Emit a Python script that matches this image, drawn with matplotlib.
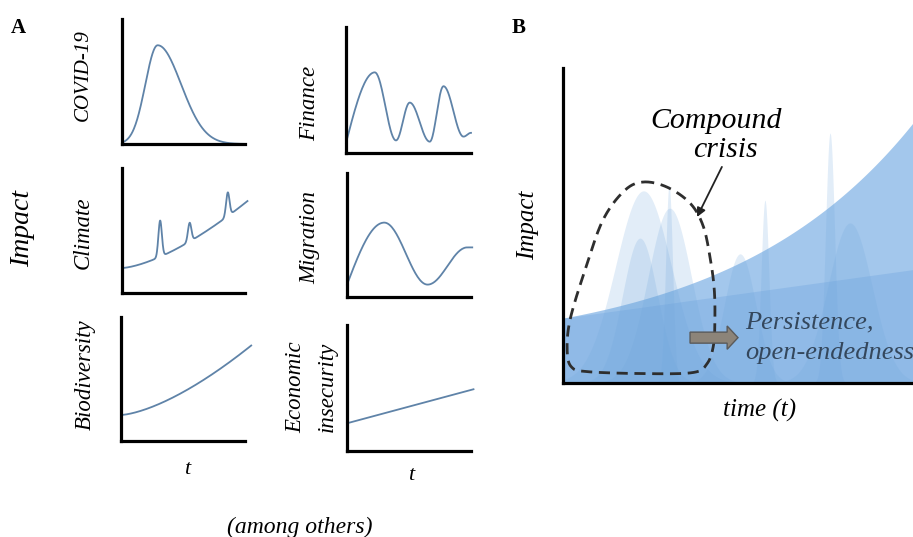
import numpy as np
import matplotlib
matplotlib.use("Agg")
import matplotlib.pyplot as plt
from matplotlib.patches import FancyArrow

W, H = 913, 537

# ---- Panel A: shape features of each small sketch (fractions of each small axis)
covid_center, covid_height, covid_left_w, covid_right_w = 0.29, 0.79, 0.10, 0.19

# turning points (peaks / troughs) of the wavy sketches
finance_x = [0.0, 0.23, 0.40, 0.51, 0.67, 0.78, 0.94, 1.0]
finance_y = [0.08, 0.64, 0.10, 0.40, 0.09, 0.53, 0.13, 0.16]
migration_x = [0.0, 0.30, 0.65, 0.97, 1.01]
migration_y = [0.10, 0.60, 0.10, 0.40, 0.40]

climate_start, climate_rise, climate_power = 0.20, 0.52, 1.5
climate_spike_centers = [0.31, 0.55, 0.86]
climate_spike_heights = [0.29, 0.15, 0.19]
climate_spike_width = 0.014

biodiv_start, biodiv_end, biodiv_power = 0.21, 0.77, 1.5
econ_start, econ_end = 0.22, 0.49

# ---- Panel B: persistent impact and overlapping crisis peaks (0..10 units)
env_start, env_scale, env_growth = 2.06, 1.09, 0.19
band_start, band_end = 2.06, 3.6
peak_centers = [2.3, 3.05, 3.03, 2.2, 5.06, 5.77, 7.63, 8.2]
peak_heights = [6.1, 5.55, 6.29, 4.6, 4.1, 5.81, 7.94, 5.08]
peak_widths = [0.8, 0.62, 0.10, 0.5, 0.45, 0.11, 0.13, 0.63]

crisis_outline = [(2.29, 6.38), (2.97, 6.22), (3.63, 5.71), (4.0, 5.0), (4.2, 4.0),
                  (4.32, 3.0), (4.34, 2.0), (4.3, 1.2), (4.12, 0.62), (3.7, 0.33),
                  (2.2, 0.30), (0.7, 0.36), (0.25, 0.5), (0.12, 1.0), (0.2, 2.0),
                  (0.63, 3.59), (1.14, 5.17), (1.75, 6.1)]


def bump(x, c, h, w):
    return h * np.exp(-0.5 * ((x - c) / w) ** 2)


def through_turns(xs, ys, n=40):
    # smooth stroke through turning points; the first stroke leaves the axis steeply
    px, py = [], []
    for i in range(len(xs) - 1):
        t = np.linspace(0, 1, n)
        if i == 0:
            e = np.sin(np.pi / 2 * t)
        else:
            e = 0.5 - 0.5 * np.cos(np.pi * t)
        px.append(xs[i] + (xs[i + 1] - xs[i]) * t)
        py.append(ys[i] + (ys[i + 1] - ys[i]) * e)
    return np.concatenate(px), np.concatenate(py)


def catmull_closed(pts, n=30):
    p = np.array(pts)
    out = []
    m = len(p)
    t = np.linspace(0, 1, n, endpoint=False)[:, None]
    for i in range(m):
        p0, p1, p2, p3 = p[i - 1], p[i], p[(i + 1) % m], p[(i + 2) % m]
        out.append(0.5 * ((2 * p1) + (-p0 + p2) * t + (2 * p0 - 5 * p1 + 4 * p2 - p3) * t ** 2
                          + (-p0 + 3 * p1 - 3 * p2 + p3) * t ** 3))
    out = np.vstack(out)
    return np.vstack([out, out[:1]])


fig = plt.figure(figsize=(W / 100, H / 100), dpi=100)
serif = ["Liberation Serif", "DejaVu Serif"]
line_col = "#5f83a8"


def put(px, py, s, **kw):
    kw.setdefault("family", serif)
    kw.setdefault("ha", "center")
    kw.setdefault("va", "center")
    fig.text(px / W, 1 - py / H, s, **kw)


def small_axes(x0, y_top, x1, y_bot):
    ax = fig.add_axes([x0 / W, 1 - y_bot / H, (x1 - x0) / W, (y_bot - y_top) / H])
    ax.set_xlim(0, 1)
    ax.set_ylim(0, 1)
    for s in ["top", "right"]:
        ax.spines[s].set_visible(False)
    for s in ["left", "bottom"]:
        ax.spines[s].set_linewidth(2.3)
        ax.spines[s].set_capstyle("projecting")
    ax.set_xticks([])
    ax.set_yticks([])
    ax.patch.set_alpha(0)
    return ax


# COVID-19
ax = small_axes(122, 19, 245, 144)
x = np.linspace(0, 1, 300)
w = np.where(x < covid_center, covid_left_w, covid_right_w)
ax.plot(x, covid_height * np.exp(-0.5 * ((x - covid_center) / w) ** 2), color=line_col, lw=1.3)

# Finance
ax = small_axes(346, 27, 471, 153)
fx, fy = through_turns(finance_x, finance_y)
ax.plot(fx, fy, color=line_col, lw=1.3, clip_on=False)

# Climate
ax = small_axes(122, 168, 245, 293)
xc = np.linspace(0, 1.02, 600)
y = climate_start + climate_rise * xc ** climate_power
for c, h in zip(climate_spike_centers, climate_spike_heights):
    y = y + bump(xc, c, h, climate_spike_width)
ax.plot(xc, y, color=line_col, lw=1.3, clip_on=False)

# Migration
ax = small_axes(347, 173, 471, 297)
mx, my = through_turns(migration_x, migration_y)
ax.plot(mx, my, color=line_col, lw=1.3, clip_on=False)

# Biodiversity
ax = small_axes(121, 317, 245, 441)
xb = np.linspace(0, 1, 200)
ax.plot(xb * 1.05, biodiv_start + (biodiv_end - biodiv_start) * xb ** biodiv_power,
        color=line_col, lw=1.3, clip_on=False)

# Economic insecurity
ax = small_axes(347, 325, 471, 451)
ax.plot([0, 1.02], [econ_start, econ_end], color=line_col, lw=1.3, clip_on=False)

# Panel A texts
put(18, 28, "A", fontsize=15, fontweight="bold")
put(519, 28, "B", fontsize=15, fontweight="bold")
lab = dict(fontsize=16.5, style="italic", rotation=90)
put(83, 75, "COVID-19", **dict(lab, fontsize=15))
put(310, 103, "Finance", **lab)
put(83, 233, "Climate", **lab)
put(310, 238, "Migration", **lab)
put(85, 375, "Biodiversity", **lab)
put(296, 387, "Economic", **lab)
put(327, 387, "insecurity", **lab)
put(23, 228, "Impact", fontsize=20, style="italic", rotation=90)
put(187, 470, "t", fontsize=16, style="italic")
put(411, 476, "t", fontsize=16, style="italic")
put(300, 527, "(among others)", fontsize=17, style="italic")

# ---- Panel B
axb = fig.add_axes([563 / W, 1 - 383 / H, 350 / W, 315 / H])
axb.set_xlim(0, 10)
axb.set_ylim(0, 10)
for s in ["top", "right"]:
    axb.spines[s].set_visible(False)
for s in ["left", "bottom"]:
    axb.spines[s].set_linewidth(2.3)
    axb.spines[s].set_capstyle("projecting")
    axb.spines[s].set_zorder(10)
axb.set_xticks([])
axb.set_yticks([])
axb.patch.set_alpha(0)

xx = np.linspace(0, 10, 800)
env = env_start + env_scale * (np.exp(env_growth * xx) - 1)
band = band_start + (band_end - band_start) * xx / 10
axb.fill_between(xx, 0, env, color="#a3c7ec", lw=0, zorder=1)
axb.fill_between(xx, 0, band, color="#4f8fd6", alpha=0.22, lw=0, zorder=2)
for c, h, s in zip(peak_centers, peak_heights, peak_widths):
    axb.fill_between(xx, 0, bump(xx, c, h, s), color="#6fa6dc", alpha=0.2, lw=0, zorder=3)

outline = catmull_closed(crisis_outline)
axb.plot(outline[:, 0], outline[:, 1], color="#2e2e2e", lw=2, linestyle=(0, (4, 2.4)), zorder=5)

axb.annotate("", xy=(3.83, 5.27), xytext=(4.54, 6.86),
             arrowprops=dict(arrowstyle="-|>", color="#222222", lw=1.3, mutation_scale=13,
                             shrinkA=0, shrinkB=0), zorder=6)
axb.add_patch(FancyArrow(3.63, 1.44, 1.06, 0, width=0.35, head_width=0.74, head_length=0.31,
                         length_includes_head=False, facecolor="#8c8479", edgecolor="#5a5a5a",
                         lw=1, zorder=6))

put(716, 121, "Compound", fontsize=21.5, style="italic")
put(725, 150, "crisis", fontsize=21.5, style="italic")
put(745, 322, "Persistence,", fontsize=19, style="italic", ha="left", color="#34475c")
put(745, 353, "open-endedness", fontsize=19, style="italic", ha="left", color="#34475c")
put(528, 225, "Impact", fontsize=18, style="italic", rotation=90)
put(760, 410, "time (t)", fontsize=18, style="italic")

fig.savefig("out.png", dpi=100)
